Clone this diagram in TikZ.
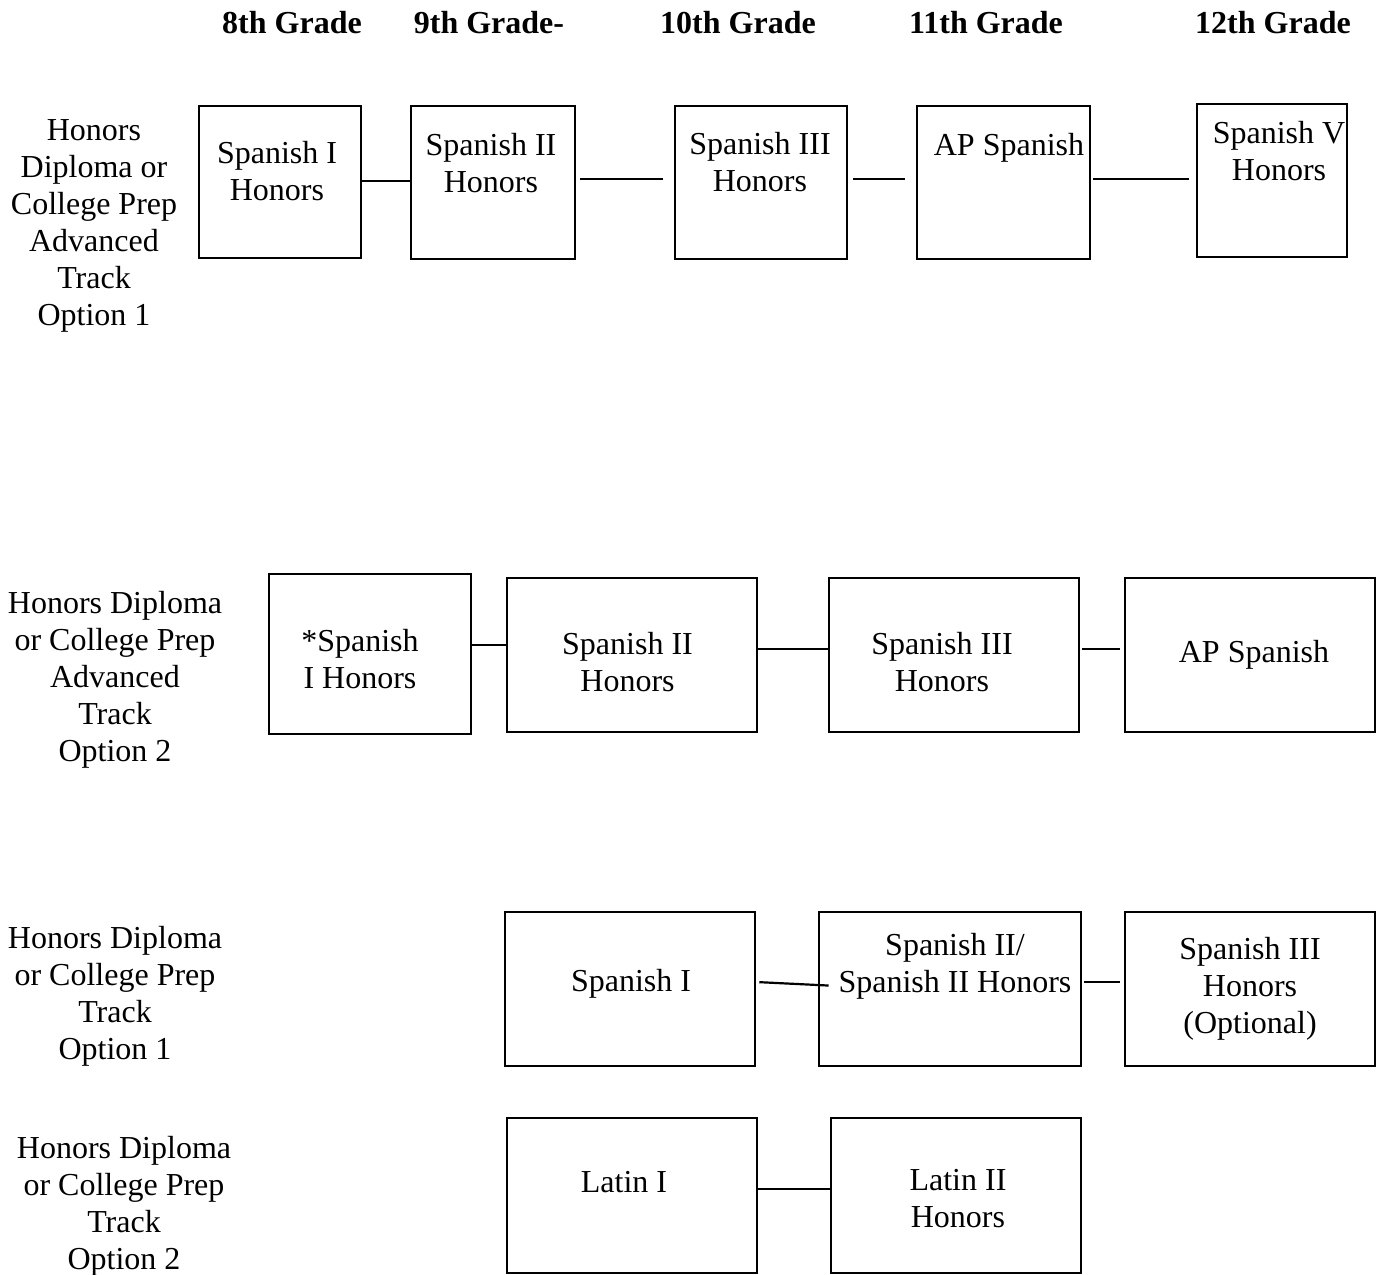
\documentclass[tikz,border=0pt]{standalone}
\usepackage{fontspec}
\setmainfont{Liberation Serif}

\newlength{\du}
\setlength{\du}{0.375pt}

\tikzset{
  course/.style 2 args={draw, rectangle, line width=2.6\du, inner sep=0pt,
    minimum width=#1\du, minimum height=#2\du},
  coursetext/.style={align=center, inner sep=0pt,
    font=\fontsize{12pt}{13.9pt}\selectfont},
  grade/.style={inner sep=0pt, font=\fontsize{12pt}{13.9pt}\selectfont\bfseries},
  link/.style={line width=2.2\du},
}

\begin{document}
\begin{tikzpicture}[yscale=-1]
\useasboundingbox (0,0) rectangle (1380\du,1274\du);
% grade headings
\node[grade] (g8) at (292\du,23\du) {8th Grade};
\node[grade] (g9) at (489\du,23\du) {9th Grade-};
\node[grade] (g10) at (738\du,23\du) {10th Grade};
\node[grade] (g11) at (986\du,23\du) {11th Grade};
\node[grade] (g12) at (1273\du,23\du) {12th Grade};
% advanced track, option 1
\node[coursetext] (track1) at (94\du,226\du) {Honors\\Diploma or\\College Prep\\Advanced\\Track\\Option 1};
\node[course={162}{152}] (a1) at (280\du,182\du) {};
\node[course={164}{153}] (a2) at (493\du,182.5\du) {};
\node[course={172}{153}] (a3) at (761\du,182.5\du) {};
\node[course={173}{153}] (a4) at (1003.5\du,182.5\du) {};
\node[course={150}{153}] (a5) at (1272\du,180.5\du) {};
\node[coursetext] (a1t) at (277\du,171\du) {Spanish I\\Honors};
\node[coursetext] (a2t) at (491\du,163.5\du) {Spanish II\\Honors};
\node[coursetext] (a3t) at (760\du,162.5\du) {Spanish III\\Honors};
\node[coursetext] (a4t) at (1009\du,148\du) {AP Spanish};
\node[coursetext] (a5t) at (1279\du,151\du) {Spanish V\\Honors};
\draw[link] (a1.east |- 0,181\du) -- (a2.west |- 0,181\du);
\draw[link, shorten <=4\du, shorten >=11\du] (a2.east |- 0,179\du) -- (a3.west |- 0,179\du);
\draw[link, shorten <=5\du, shorten >=11\du] (a3.east |- 0,179\du) -- (a4.west |- 0,179\du);
\draw[link, shorten <=2\du, shorten >=7\du] (a4.east |- 0,179\du) -- (a5.west |- 0,179\du);
% advanced track, option 2
\node[coursetext] (track2) at (115\du,680\du) {Honors Diploma\\or College Prep\\Advanced\\Track\\Option 2};
\node[course={202}{160}] (b1) at (370\du,654\du) {};
\node[course={250}{154}] (b2) at (632\du,655\du) {};
\node[course={250}{154}] (b3) at (954\du,655\du) {};
\node[course={250}{154}] (b4) at (1250\du,655\du) {};
\node[coursetext] (b1t) at (360\du,659.5\du) {*Spanish\\I Honors};
\node[coursetext] (b2t) at (627.5\du,662\du) {Spanish II\\Honors};
\node[coursetext] (b3t) at (942\du,662\du) {Spanish III\\Honors};
\node[coursetext] (b4t) at (1254\du,655\du) {AP Spanish};
\draw[link] (b1.east |- 0,645\du) -- (b2.west |- 0,645\du);
\draw[link] (b2.east |- 0,649\du) -- (b3.west |- 0,649\du);
\draw[link, shorten <=2\du, shorten >=4\du] (b3.east |- 0,649\du) -- (b4.west |- 0,649\du);
% college prep, option 1
\node[coursetext] (track3) at (115\du,996\du) {Honors Diploma\\or College Prep\\Track\\Option 1};
\node[course={250}{154}] (c1) at (630\du,989\du) {};
\node[course={262}{154}] (c2) at (950\du,989\du) {};
\node[course={250}{154}] (c3) at (1250\du,989\du) {};
\node[coursetext] (c1t) at (631\du,984\du) {Spanish I};
\node[coursetext] (c2t) at (955\du,966.5\du) {Spanish II/\\Spanish II Honors};
\node[coursetext] (c3t) at (1250\du,989\du) {Spanish III\\Honors\\(Optional)};
\draw[link, shorten <=3\du, shorten >=-11\du] (c1.east |- 0,982\du) -- (c2.west |- 0,985\du);
\draw[link, shorten <=2\du, shorten >=4\du] (c2.east |- 0,982\du) -- (c3.west |- 0,982\du);
% college prep, option 2
\node[coursetext] (track4) at (124\du,1206\du) {Honors Diploma\\or College Prep\\Track\\Option 2};
\node[course={250}{155}] (d1) at (632\du,1195.5\du) {};
\node[course={250}{155}] (d2) at (956\du,1195.5\du) {};
\node[coursetext] (d1t) at (624\du,1182\du) {Latin I};
\node[coursetext] (d2t) at (958\du,1198.5\du) {Latin II\\Honors};
\draw[link] (d1.east |- 0,1189\du) -- (d2.west |- 0,1189\du);
\end{tikzpicture}
\end{document}
